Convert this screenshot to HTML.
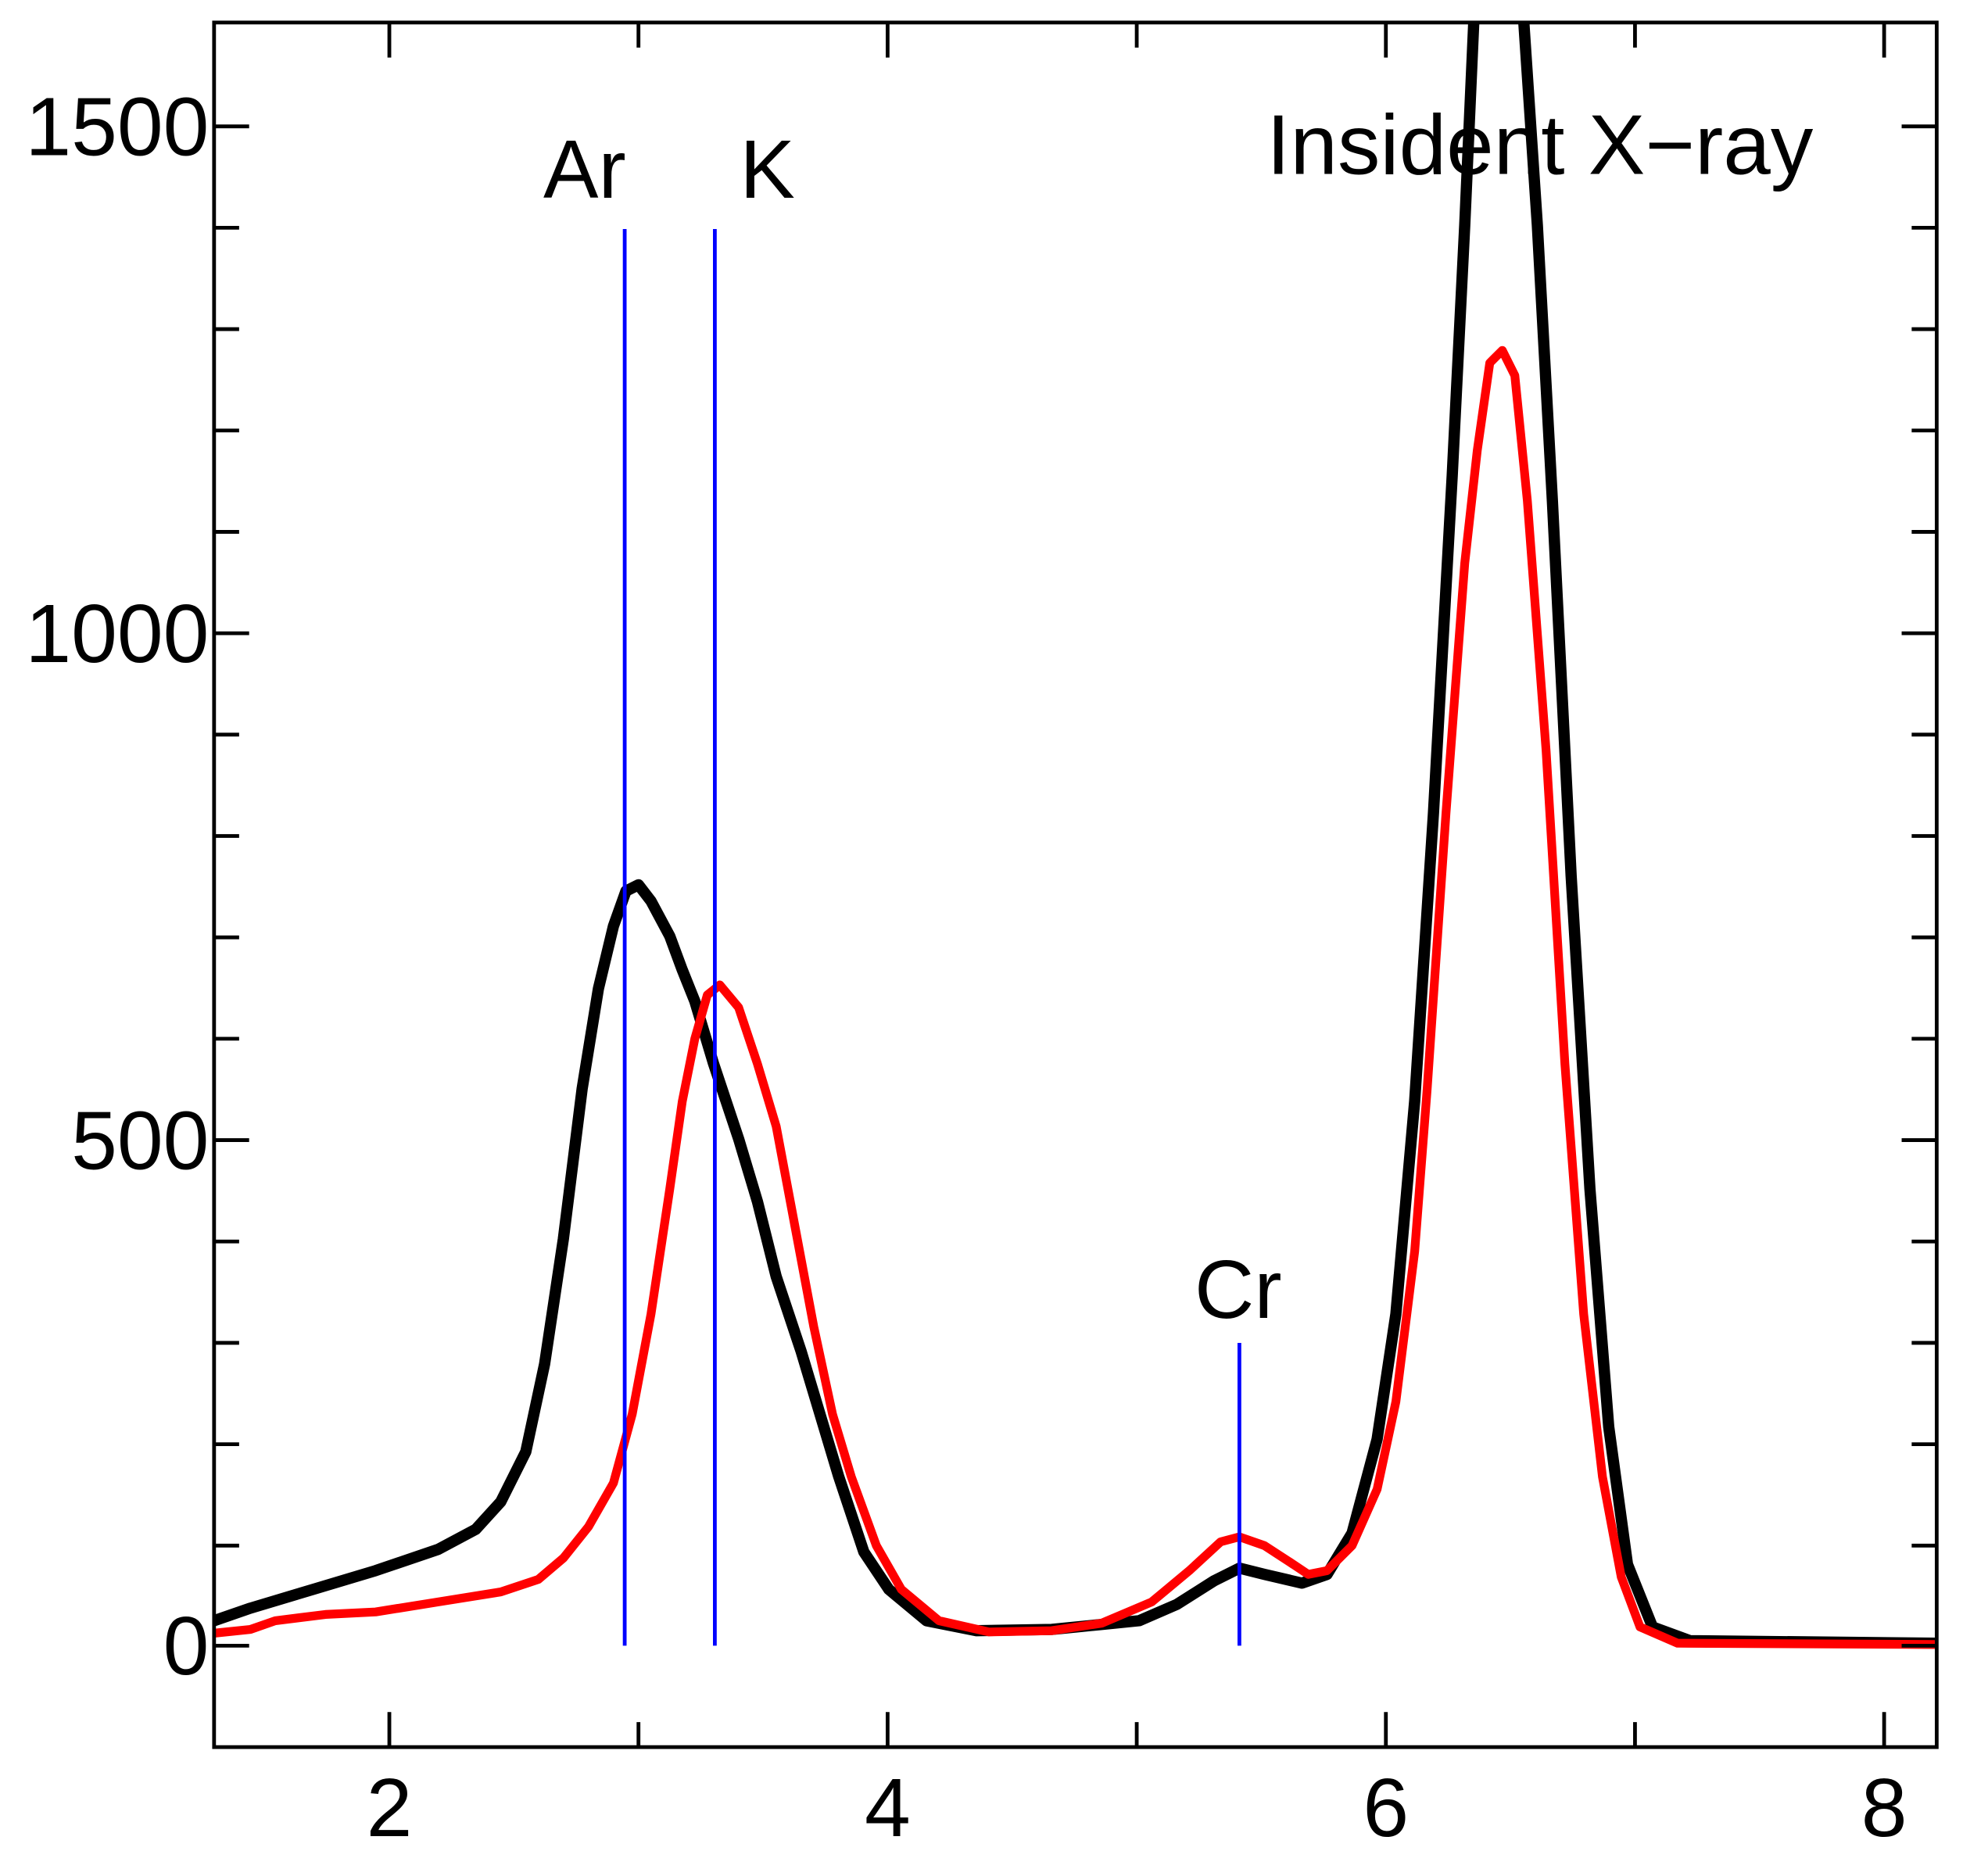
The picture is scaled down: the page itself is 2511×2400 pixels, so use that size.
<!DOCTYPE html>
<html><head><meta charset="utf-8"><style>html,body{margin:0;padding:0;background:#fff}svg{display:block}</style></head>
<body>
<svg width="2511" height="2400" viewBox="0 0 1568 1499" preserveAspectRatio="none" xmlns="http://www.w3.org/2000/svg">
<rect x="0" y="0" width="1568" height="1499" fill="#fff"/>
<defs><clipPath id="c"><rect x="171" y="18" width="1376" height="1378"/></clipPath></defs>
<g clip-path="url(#c)" fill="none" stroke-linejoin="round" stroke-linecap="round">
<path stroke="#000" stroke-width="9" d="M171,1295 L200,1285 L250,1270 L300,1255 L350,1238 L380,1222 L400,1200 L420,1160 L435,1090 L450,990 L465,870 L478,790 L490,740 L500,712 L510,707 L520,720 L535,748 L545,775 L555,800 L570,850 L590,910 L605,960 L620,1020 L640,1080 L655,1130 L670,1180 L690,1240 L710,1270 L740,1295 L780,1303 L840,1302 L880,1298 L910,1295 L940,1282 L970,1263 L990,1253 L1010,1258 L1040,1265 L1060,1258 L1080,1225 L1100,1150 L1115,1050 L1130,880 L1145,650 L1160,380 L1170,180 L1178,0 L1216,0 L1228,180 L1240,400 L1255,700 L1270,950 L1285,1140 L1300,1250 L1320,1300 L1350,1311 L1547,1313"/>
<path stroke="#f00" stroke-width="7" d="M171,1305 L200,1302 L220,1295 L260,1290 L300,1288 L350,1280 L400,1272 L430,1262 L450,1245 L470,1220 L490,1185 L505,1130 L520,1050 L535,950 L545,880 L555,830 L565,795 L575,787 L590,805 L605,850 L620,900 L635,980 L650,1060 L665,1130 L680,1180 L700,1235 L720,1270 L750,1295 L790,1304 L840,1303 L880,1297 L920,1280 L950,1255 L975,1232 L990,1228 L1010,1235 L1030,1248 L1045,1258 L1060,1255 L1080,1235 L1100,1190 L1115,1120 L1130,1000 L1140,870 L1155,650 L1170,450 L1180,360 L1190,290 L1200,280 L1210,300 L1220,400 L1235,600 L1250,850 L1265,1050 L1280,1180 L1295,1260 L1310,1300 L1340,1313 L1547,1314"/>
</g>
<g stroke="#00f" stroke-width="3">
<line x1="499" y1="183" x2="499" y2="1315"/>
<line x1="571" y1="183" x2="571" y2="1315"/>
<line x1="990" y1="1073" x2="990" y2="1315"/>
</g>
<g stroke="#000" stroke-width="3">
<rect x="171" y="18" width="1376" height="1378" fill="none"/>
<path d="M171,101h28M171,506h28M171,911h28M171,1315h28M1547,101h-28M1547,506h-28M1547,911h-28M1547,1315h-28"/>
<path d="M171,182h20M171,263h20M171,344h20M171,425h20M171,587h20M171,668h20M171,749h20M171,830h20M171,992h20M171,1073h20M171,1154h20M171,1235h20M1547,182h-20M1547,263h-20M1547,344h-20M1547,425h-20M1547,587h-20M1547,668h-20M1547,749h-20M1547,830h-20M1547,992h-20M1547,1073h-20M1547,1154h-20M1547,1235h-20"/>
<path d="M311,1396v-28M709,1396v-28M1107,1396v-28M1505,1396v-28M311,18v28M709,18v28M1107,18v28M1505,18v28"/>
<path d="M510,1396v-20M908,1396v-20M1306,1396v-20M510,18v20M908,18v20M1306,18v20"/>
</g>
<g font-family="Liberation Sans, sans-serif" font-size="66" fill="#000">
<text x="167" y="124" text-anchor="end">1500</text>
<text x="167" y="529" text-anchor="end">1000</text>
<text x="167" y="934" text-anchor="end">500</text>
<text x="167" y="1338" text-anchor="end">0</text>
<text x="311" y="1467" text-anchor="middle">2</text>
<text x="709" y="1467" text-anchor="middle">4</text>
<text x="1107" y="1467" text-anchor="middle">6</text>
<text x="1505" y="1467" text-anchor="middle">8</text>
<text x="467" y="158" text-anchor="middle">Ar</text>
<text x="613" y="158" text-anchor="middle">K</text>
<text x="989" y="1053" text-anchor="middle">Cr</text>
<text x="1230" y="139" text-anchor="middle" font-size="68">Insident X−ray</text>
</g>
</svg>
</body></html>
